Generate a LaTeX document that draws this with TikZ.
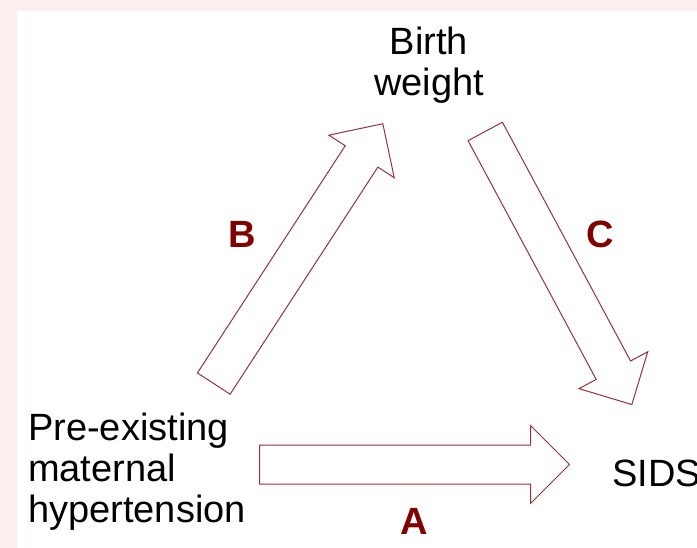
\documentclass[tikz,border=0pt]{standalone}
\usepackage{fontspec}
\setmainfont{Liberation Sans}
\usepackage{xcolor}
\definecolor{sidspink}{RGB}{252,238,239}
\definecolor{sidsred}{RGB}{128,0,0}
\definecolor{sidsedge}{RGB}{140,55,60}
\usetikzlibrary{shapes.arrows,positioning}

\begin{document}
\begin{tikzpicture}[
  x=1pt, y=-1pt,
  every node/.style={inner sep=0pt,font=\fontsize{38}{41}\selectfont},
  lbl/.style={font=\fontsize{38}{41}\selectfont\bfseries,text=sidsred},
  blockarr/.style={single arrow,draw=sidsedge,line width=1pt,fill=white,
                   minimum height=310pt,inner xsep=0pt,inner ysep=19pt,
                   single arrow head extend=19.5pt,single arrow tip angle=90,
                   sloped,pos=0,anchor=tail},
]
  % Frame
  \useasboundingbox (0,0) rectangle (697,548);
  \fill[sidspink] (0,0) rectangle (697,548);
  \fill[white] (17,11) rectangle (697,548);

  % Texts
  \node[anchor=north,align=center] (bw) at (429,27) {Birth\\weight};
  \node[anchor=north west,align=left] (pre) at (28,413)
    {Pre-existing\\maternal\\hypertension};
  \node[anchor=north west] (sids) at (612,460) {SIDS};

  % Arrow ends
  \coordinate (Btail) at (213.5,384);
  \coordinate (Btip) at (382,125);
  \coordinate (Ctail) at (485,131);
  \coordinate (Ctip) at (631,403);
  \coordinate (Atail) at (259,464.5);
  \coordinate (Atip) at (570,464.5);

  % Arrows
  \path (Btail) -- node[blockarr] (arrB) {} (Btip);
  \path (Ctail) -- node[blockarr] (arrC) {} (Ctip);
  \path (Atail) -- node[blockarr] (arrA) {} (Atip);

  % Labels
  \node[lbl] (labB) at (242,234) {B};
  \node[lbl] (labC) at (600,234) {C};
  \node[lbl] (labA) at (414,521) {A};
\end{tikzpicture}
\end{document}
